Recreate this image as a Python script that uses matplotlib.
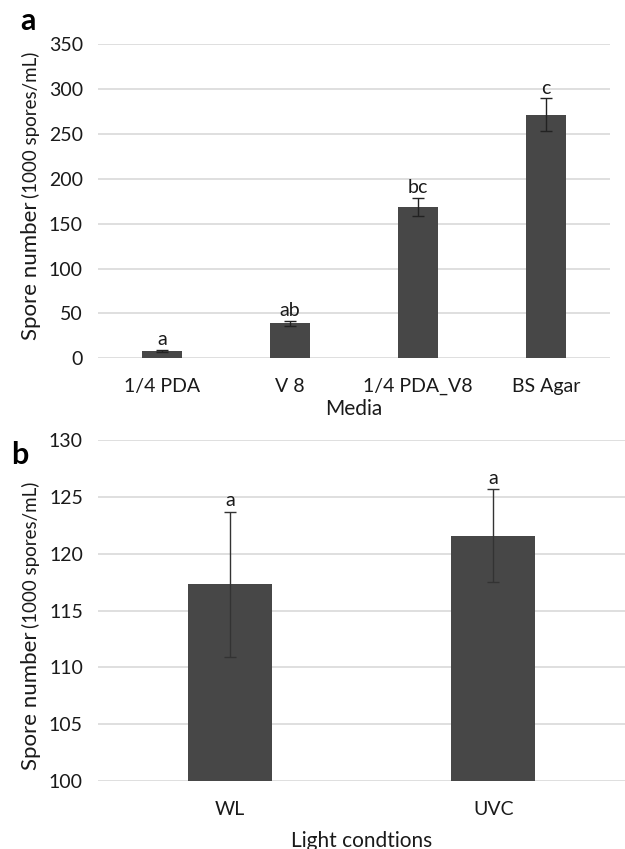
import matplotlib
matplotlib.use('Agg')
import matplotlib.pyplot as plt
import numpy as np

plt.rcParams['font.family'] = ['Lato', 'DejaVu Sans']

# panel a: media
media = ['1/4 PDA', 'V 8', '1/4 PDA_V8', 'BS Agar']
media_vals = [8, 39, 168.5, 271.5]
media_err = [1, 3, 10.5, 18]
media_letters = ['a', 'ab', 'bc', 'c']

# panel b: light
light = ['WL', 'UVC']
light_vals = [117.3, 121.6]
light_err = [6.4, 4.1]
light_letters = ['a', 'a']

bar_col = '#474747'
grid_col = '#d9d9d9'
txt_col = '#1a1a1a'

fig = plt.figure(figsize=(6.25, 8.49), dpi=100)
ax1 = fig.add_axes([0.157, 0.578, 0.819, 0.370])
ax2 = fig.add_axes([0.157, 0.080, 0.843, 0.4017])


def style(ax, ylim, yticks):
    ax.set_ylim(*ylim)
    ax.set_yticks(yticks)
    for s in ax.spines.values():
        s.set_visible(False)
    ax.yaxis.grid(True, color=grid_col, lw=1.2)
    ax.set_axisbelow(True)
    ax.tick_params(length=0, labelsize=14, colors=txt_col)
    ax.tick_params(axis='y', pad=11)


x1 = np.arange(len(media))
ax1.bar(x1, media_vals, width=0.31, color=bar_col, zorder=2)
ax1.errorbar(x1, media_vals, yerr=media_err, fmt='none', ecolor='#222222',
             elinewidth=1, capsize=4, capthick=1, zorder=3)
for xi, v, e, l in zip(x1, media_vals, media_err, media_letters):
    ax1.text(xi, v + e + 2, l, ha='center', va='bottom', fontsize=14, color=txt_col)
ax1.set_xlim(-0.5, len(media) - 0.5)
style(ax1, (0, 350), range(0, 351, 50))
ax1.tick_params(axis='x', pad=14)
ax1.set_xticks(x1)
ax1.set_xticklabels(media)
ax1.set_xlabel('Media', fontsize=15, color=txt_col, labelpad=3)

x2 = np.arange(len(light))
ax2.bar(x2, [v - 100 for v in light_vals], bottom=100, width=0.32, color=bar_col, zorder=2)
ax2.errorbar(x2, light_vals, yerr=light_err, fmt='none', ecolor='#333333',
             elinewidth=1, capsize=4, capthick=1, zorder=3)
for xi, v, e, l in zip(x2, light_vals, light_err, light_letters):
    ax2.text(xi, v + e + 0.2, l, ha='center', va='bottom', fontsize=14, color=txt_col)
ax2.set_xlim(-0.5, len(light) - 0.5)
style(ax2, (100, 130), range(100, 131, 5))
ax2.tick_params(axis='x', pad=14)
ax2.set_xticks(x2)
ax2.set_xticklabels(light)
ax2.set_xlabel('Light condtions', fontsize=15, color=txt_col, labelpad=10)

# panel letters
fig.text(0.032, 0.975, 'a', fontsize=22, fontweight='bold', ha='left', va='center', color='black')
fig.text(0.018, 0.464, 'b', fontsize=22, fontweight='bold', ha='left', va='center', color='black')

# mixed-size y labels
fig.canvas.draw()
rend = fig.canvas.get_renderer()


def ylab(xf, yf):
    t1 = fig.text(xf, yf, 'Spore number', rotation=90, rotation_mode='anchor',
                  ha='left', va='baseline', fontsize=16, color=txt_col)
    bb = t1.get_window_extent(rend).transformed(fig.transFigure.inverted())
    fig.text(xf, bb.y1 + 0.004, '(1000 spores/mL)', rotation=90, rotation_mode='anchor',
             ha='left', va='baseline', fontsize=13.5, color=txt_col)


ylab(0.059, 1 - 340 / 849)
ylab(0.059, 1 - 770 / 849)

fig.savefig('out.png', dpi=100)
